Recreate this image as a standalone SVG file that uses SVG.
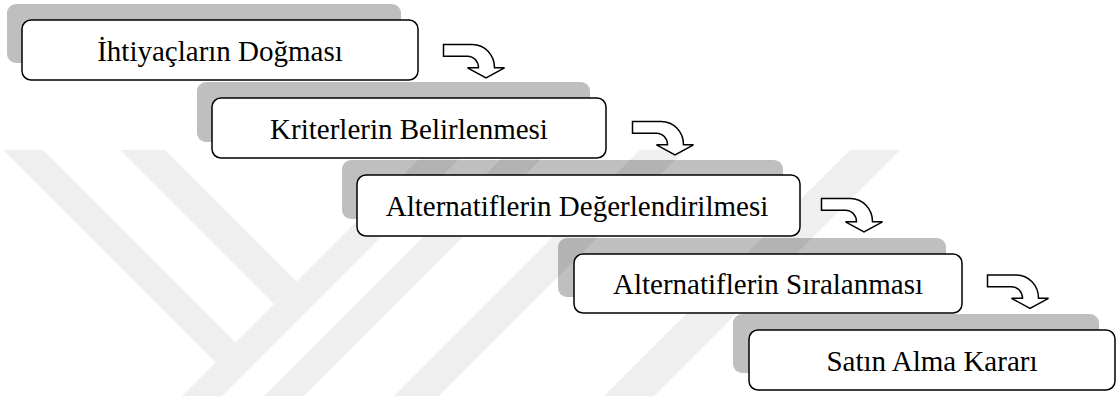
<svg xmlns="http://www.w3.org/2000/svg" width="1118" height="396" viewBox="0 0 1118 396">
  <style>
    .wm { fill: #efefef; }
    .shadow { fill: #000; fill-opacity: 0.25; }
    .box { fill: #fff; stroke: #000; stroke-width: 1.5; }
    .label { font-family: "Liberation Serif", "Times New Roman", serif; font-size: 29px; fill: #000; text-anchor: middle; }
    .turn { fill: #fff; stroke: #000; stroke-width: 1.5; stroke-linejoin: miter; }
  </style>
  <defs>
    <!-- bent block arrow: shaft to the right, turning down into an arrowhead -->
    <path id="bend" d="M0,0 H29 A22,23.3 0 0 1 51,23.3 H61 L42.5,33.3 L24,23.3 H35 A11,11.6 0 0 0 24,11.7 H0 Z"/>
  </defs>

  <rect width="1118" height="396" fill="#fff"/>

  <!-- background emblem bands -->
  <g id="emblem">
    <polygon class="wm" points="3,150 43,150 235.5,342.5 215.5,362.5"/>
    <polygon class="wm" points="120,150 165,150 296.5,281.5 274,304"/>
    <polygon class="wm" points="428,150 468,150 222,396 182,396"/>
    <polygon class="wm" points="510,150 550,150 304,396 264,396"/>
    <polygon class="wm" points="640,150 685,150 439,396 394,396"/>
    <polygon class="wm" points="850,150 900,150 654,396 604,396"/>
  </g>

  <g id="step1">
    <rect class="shadow" x="7" y="4" width="394" height="59" rx="9"/>
    <rect class="box" x="22" y="20" width="396" height="60" rx="9"/>
    <text class="label" x="220" y="60.5">İhtiyaçların Doğması</text>
  </g>

  <g id="step2">
    <rect class="shadow" x="197" y="82" width="393" height="60" rx="9"/>
    <rect class="box" x="212" y="98" width="394" height="60" rx="9"/>
    <text class="label" x="409" y="138.5">Kriterlerin Belirlenmesi</text>
  </g>

  <g id="step3">
    <rect class="shadow" x="342" y="160" width="441" height="59" rx="9"/>
    <rect class="box" x="357" y="175" width="443" height="61" rx="9"/>
    <text class="label" x="577" y="216">Alternatiflerin Değerlendirilmesi</text>
  </g>

  <g id="step4">
    <rect class="shadow" x="558" y="238" width="388" height="59" rx="9"/>
    <rect class="box" x="574" y="254" width="388" height="59" rx="9"/>
    <text class="label" x="768" y="294">Alternatiflerin Sıralanması</text>
  </g>

  <g id="step5">
    <rect class="shadow" x="733" y="314" width="366" height="59" rx="9"/>
    <rect class="box" x="749" y="330" width="366" height="60" rx="9"/>
    <text class="label" x="932" y="370.5">Satın Alma Kararı</text>
  </g>

  <g id="connectors">
    <use href="#bend" class="turn" x="443.5" y="44.5"/>
    <use href="#bend" class="turn" x="632.5" y="121.5"/>
    <use href="#bend" class="turn" x="821.5" y="198.5"/>
    <use href="#bend" class="turn" x="987.5" y="275"/>
  </g>
</svg>
